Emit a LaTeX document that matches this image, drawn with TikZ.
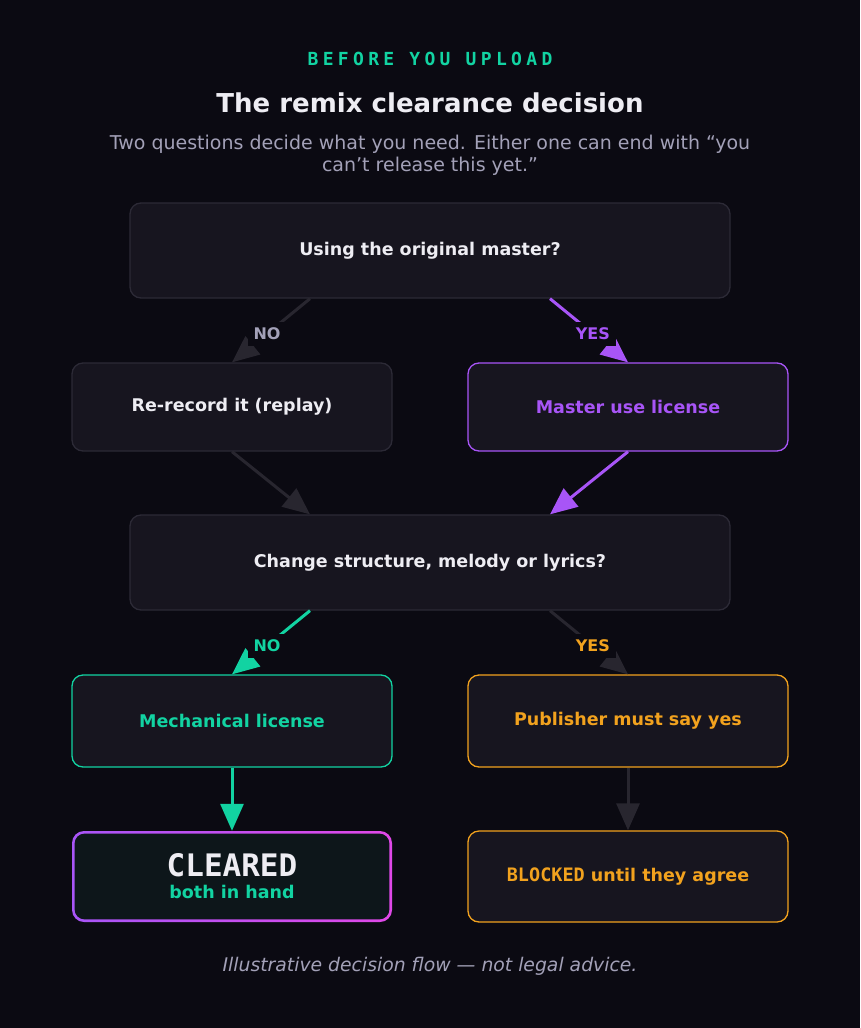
\documentclass[tikz,border=0pt]{standalone}
\usepackage{fontspec}
\setmainfont{DejaVu Sans}
\newfontfamily\kickerfont{DejaVu Sans Mono}[LetterSpace=24]
\newfontfamily\stampfont{DejaVu Sans Mono}
\usepackage{xcolor}
\usetikzlibrary{arrows.meta,positioning}
\definecolor{RMXBg}{HTML}{0B0A12}
\definecolor{RMXBox}{HTML}{17151F}
\definecolor{RMXBorder}{HTML}{2C2A36}
\definecolor{RMXLine}{HTML}{28262F}
\definecolor{RMXText}{HTML}{EEEDF3}
\definecolor{RMXMuted}{HTML}{A3A1B8}
\definecolor{RMXGreen}{HTML}{12D3A2}
\definecolor{RMXPurple}{HTML}{A855F7}
\definecolor{RMXMagenta}{HTML}{E048E8}
\definecolor{RMXOrange}{HTML}{F2A21E}
\definecolor{RMXClearFill}{HTML}{0D161A}

\tikzset{
  card/.style={rounded corners=11pt, fill=RMXBox, draw=RMXBorder, line width=1.3pt,
    align=center, text=RMXText, font=\fontsize{17.5}{21}\selectfont\bfseries},
  wide/.style={card, minimum width=600pt, minimum height=95pt},
  half/.style={card, minimum width=320pt, minimum height=88pt},
  flow/.style={line width=3pt, -{Triangle[length=27pt,width=23pt]}},
  tag/.style={fill=RMXBg, inner sep=6pt, font=\fontsize{16}{20}\selectfont\bfseries}
}

\begin{document}
\begin{tikzpicture}[x=1pt, y=-1pt]
  \fill[RMXBg] (0,0) rectangle (860,1028);
  \useasboundingbox (0,0) rectangle (860,1028);

  % heading
  \node[text=RMXGreen, font=\kickerfont\bfseries\fontsize{18}{20}\selectfont] (kicker) at (430,59) {BEFORE YOU UPLOAD};
  \node[text=RMXText, font=\fontsize{26}{32}\selectfont\bfseries] (title) at (430,103) {The remix clearance decision};
  \node[text=RMXMuted, align=center, font=\fontsize{19}{22}\selectfont] (lede) at (430,155)
    {Two questions decide what you need. Either one can end with “you\\can’t release this yet.”};

  % boxes
  \node[wide] (q1) at (430,250.5) {Using the original master?};
  \node[half] (rerec) at (232,407) {Re-record it (replay)};
  \node[half, draw=RMXPurple, text=RMXPurple] (master) at (628,407) {Master use license};
  \node[wide] (q2) at (430,562.5) {Change structure, melody or lyrics?};
  \node[half, minimum height=92pt, draw=RMXGreen, text=RMXGreen] (mech) at (232,721) {Mechanical license};
  \node[half, minimum height=92pt, draw=RMXOrange, text=RMXOrange] (pub) at (628,721) {Publisher must say yes};

  % outcome: cleared, gradient border
  \shade[left color=RMXPurple, right color=RMXMagenta, rounded corners=12pt] (72,831) rectangle (392,922);
  \fill[RMXClearFill, rounded corners=10pt] (74.6,833.6) rectangle (389.4,919.4);
  \node[minimum width=320pt, minimum height=91pt, align=center, font=\fontsize{17.5}{22}\selectfont] (clear) at (232,876.5)
    {{\stampfont\bfseries\fontsize{31}{32}\selectfont\color{RMXText}CLEARED}\\[0pt]
     {\bfseries\color{RMXGreen}both in hand}};
  \node[half, minimum height=91pt, draw=RMXOrange, text=RMXOrange] (block) at (628,876.5)
    {{\stampfont\bfseries\fontsize{18.5}{21}\selectfont BLOCKED} until they agree};

  % connectors
  \draw[flow, RMXLine] ([xshift=-120pt]q1.south) -- node[tag, pos=0.55, text=RMXMuted] {NO} (rerec.north);
  \draw[flow, RMXPurple] ([xshift=120pt]q1.south) -- node[tag, pos=0.55, text=RMXPurple] {YES} (master.north);
  \draw[flow, RMXLine] (rerec.south) -- ([xshift=-120pt]q2.north);
  \draw[flow, RMXPurple] (master.south) -- ([xshift=120pt]q2.north);
  \draw[flow, RMXGreen] ([xshift=-120pt]q2.south) -- node[tag, pos=0.55, text=RMXGreen] {NO} (mech.north);
  \draw[flow, RMXLine] ([xshift=120pt]q2.south) -- node[tag, pos=0.55, text=RMXOrange] {YES} (pub.north);
  \draw[flow, RMXGreen] (mech.south) -- (clear.north);
  \draw[flow, RMXLine] (pub.south) -- (block.north);

  % footer
  \node[text=RMXMuted, font=\fontsize{18.8}{22}\selectfont\itshape] (note) at (430,966)
    {Illustrative decision flow — not legal advice.};
\end{tikzpicture}
\end{document}
